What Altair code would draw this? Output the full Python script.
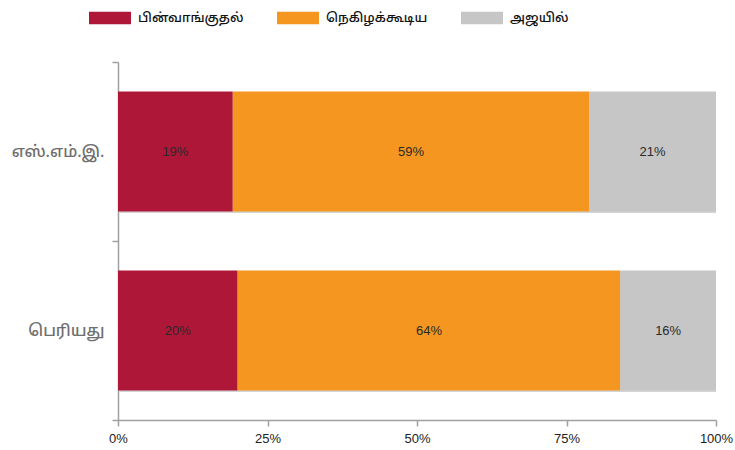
import altair as alt
import pandas as pd

categories = ["எஸ்.எம்.இ.", "பெரியது"]
series = ["பின்வாங்குதல்", "நெகிழக்கூடிய", "அஜயில்"]
values_sme = [19, 59, 21]
values_large = [20, 64, 16]
colors = ["#AF1739", "#F4961F", "#C6C6C6"]
x_ticks = [0, 0.25, 0.5, 0.75, 1]

rows = []
for cat, vals in zip(categories, [values_sme, values_large]):
    for i, (s, v) in enumerate(zip(series, vals)):
        rows.append({"cat": cat, "series": s, "value": v, "order": i, "label": f"{v}%"})
df = pd.DataFrame(rows)
cat_df = pd.DataFrame({"cat": categories, "lo": [0] * len(categories), "hi": [1] * len(categories)})

FONT = "Noto Sans Tamil, Lohit Tamil, Noto Sans, DejaVu Sans, sans-serif"
NARROW = "Liberation Sans Narrow, Arial Narrow, Liberation Sans, sans-serif"

yscale = alt.Scale(domain=categories, paddingInner=0, paddingOuter=0)
xscale = alt.Scale(domain=[0, 1], nice=False, zero=True)
BAR_BAND = {"band": 0.67}

y_axis = alt.Axis(
    tickBand="extent", tickSize=6, tickColor="#A0A0A0", domainColor="#A0A0A0",
    domainWidth=1.5, tickWidth=1.5,
    labelColor="#6E6E6E", labelFontSize=16, labelPadding=8, labelFont=FONT,
    labelFontWeight=500,
)
x_axis = alt.Axis(
    values=x_ticks, format=".0%", tickSize=6, tickColor="#A0A0A0",
    domainColor="#A0A0A0", domainWidth=1.5, tickWidth=1.5,
    labelColor="#222222", labelFontSize=13, labelFont=NARROW, labelPadding=6,
    labelFlush=False, grid=False,
)


def y_enc():
    return alt.Y("cat:N", sort=categories, title=None, scale=yscale, axis=y_axis)


def x_enc(field):
    return alt.X(field, scale=xscale, title=None, axis=x_axis)


base = alt.Chart(df).transform_stack(
    stack="value", groupby=["cat"], as_=["x0", "x1"],
    sort=[alt.SortField("order")], offset="normalize",
).transform_calculate(mid="(datum.x0 + datum.x1) / 2")

bars = base.mark_bar(height=BAR_BAND).encode(
    y=y_enc(),
    x=x_enc("x0:Q"),
    x2="x1:Q",
    color=alt.Color(
        "series:N", scale=alt.Scale(domain=series, range=colors), sort=series,
        legend=alt.Legend(
            title=None, orient="none", legendX=-29, legendY=-65, direction="horizontal",
            symbolType="M-1,-0.3H1V0.3H-1Z", symbolSize=1764, symbolStrokeWidth=0,
            symbolOpacity=1, labelFontSize=13, labelColor="#111111", labelFont=FONT,
            labelFontWeight=500, labelOffset=7, columnPadding=33, labelLimit=300,
        ),
    ),
    order=alt.Order("order:Q"),
)

shadow = alt.Chart(cat_df).mark_bar(
    height=BAR_BAND, color="#B0B0B0", opacity=0.55, xOffset=1.5, yOffset=1.5
).encode(
    y=y_enc(),
    x=x_enc("lo:Q"),
    x2="hi:Q",
)

texts = base.mark_text(fontSize=13, color="#2a2a2a", font=NARROW).encode(
    y=y_enc(),
    x=x_enc("mid:Q"),
    text="label:N",
)

chart = alt.layer(shadow, bars, texts).properties(
    width=598, height=358,
    autosize=alt.AutoSizeParams(type="none"),
    padding={"left": 118, "top": 62, "right": 19, "bottom": 30},
).configure(font=FONT).configure_view(stroke=None)

chart.save("out.html", embed_options={"renderer": "svg", "actions": False})
